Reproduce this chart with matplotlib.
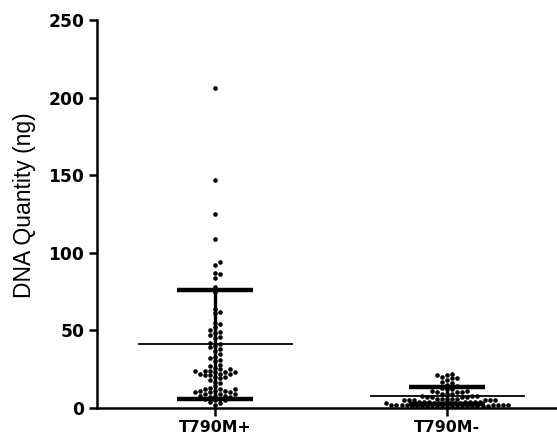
import numpy as np
import matplotlib.pyplot as plt

plt.rcParams['font.family'] = ['Liberation Sans', 'DejaVu Sans']

# =========================
# DATA
# =========================
groups = ['T790M+', 'T790M-']

pos_values = [206, 147, 125, 109, 94, 92, 87, 86, 84, 78, 75,
              64, 62, 61, 55, 54, 52, 50, 49, 48, 47, 46, 45,
              42, 41, 40, 39, 38, 37, 35, 33, 32, 31, 30,
              28, 27, 26, 25, 25, 24, 24, 24, 23, 23, 23, 22, 22, 22,
              21, 21, 20, 20, 19, 18, 17, 16,
              14, 13, 12, 12, 12, 11, 11, 11, 10, 10, 10, 9, 9, 9,
              8, 8, 8, 7, 7, 6, 6, 5, 5, 4, 3, 2]

neg_values = [22, 21, 21, 20, 19, 19, 18, 17, 16, 15, 14, 13, 12, 12, 11, 11,
              10, 10, 10, 9, 9, 9, 8, 8, 8, 7, 7, 7, 7, 6, 6, 6, 6, 6,
              5, 5, 5, 5, 5, 5, 4, 4, 4, 4, 4, 4, 4, 3, 3, 3, 3, 3, 3, 3,
              2, 2, 2, 2, 2, 2, 2, 2, 1, 1, 1, 1, 1, 1, 1, 1, 1,
              0.5, 0.5, 0.5, 0.5, 0.5, 0.5, 0.5]

means = [41, 8]
sds = [35, 5.5]

yticks = [0, 50, 100, 150, 200, 250]

# =========================
# LAYOUT
# =========================
W, H, DPI = 5.57, 4.42, 100
fig = plt.figure(figsize=(W, H), dpi=DPI)
ax = fig.add_axes([0.174, 0.077, 0.826, 0.878])
xmin, xmax = -0.51, 1.474
ymin, ymax = 0, 250
ax.set_xlim(xmin, xmax)
ax.set_ylim(ymin, ymax)

# pixels per data unit, used to keep dots from overlapping
px_x = 0.826 * W * DPI / (xmax - xmin)
px_y = 0.878 * H * DPI / (ymax - ymin)
dot_px = 4.6


def swarm(values, center):
    """simple beeswarm: place each dot at the nearest free slot"""
    placed = []
    xs = []
    for v in sorted(values):
        k = 0
        while True:
            for sgn in ([0] if k == 0 else [1, -1]):
                off = sgn * k * dot_px * 0.55
                ok = True
                for (px, py) in placed:
                    if (px - off) ** 2 + ((py - v) * px_y) ** 2 < dot_px ** 2:
                        ok = False
                        break
                if ok:
                    break
            if ok:
                break
            k += 1
        placed.append((off, v))
        xs.append(center + off / px_x)
    return xs, sorted(values)


for i, vals in enumerate([pos_values, neg_values]):
    xs, ys = swarm(vals, i)
    ax.plot(xs, ys, 'o', color='black', markersize=3.3, markeredgewidth=0,
            zorder=3)

    # mean line
    ax.plot([i - 0.33, i + 0.33], [means[i], means[i]], color='black',
            linewidth=1.3, zorder=4)
    # SD whiskers
    lo, hi = max(means[i] - sds[i], 0), means[i] + sds[i]
    ax.plot([i, i], [lo, hi], color='black', linewidth=2.4, zorder=4)
    for y in (lo, hi):
        ax.plot([i - 0.165, i + 0.165], [y, y], color='black',
                linewidth=3.2, solid_capstyle='butt', zorder=4)

bold = dict(family='DejaVu Sans', fontweight='bold')
ax.set_xticks([0, 1])
ax.set_xticklabels(groups, fontsize=11.3, **bold)
ax.set_yticks(yticks)
ax.set_yticklabels([str(t) for t in yticks], fontsize=12.3, **bold)
ax.set_ylabel('DNA Quantity (ng)', fontsize=16.5)
ax.yaxis.set_label_coords(-0.133, 0.523)

for side in ['top', 'right']:
    ax.spines[side].set_visible(False)
for side in ['left', 'bottom']:
    ax.spines[side].set_linewidth(1.8)
ax.tick_params(width=1.8, length=6, direction='out', pad=3)
ax.spines['left'].set_bounds(0, 250)

fig.savefig('out.png', dpi=DPI)
